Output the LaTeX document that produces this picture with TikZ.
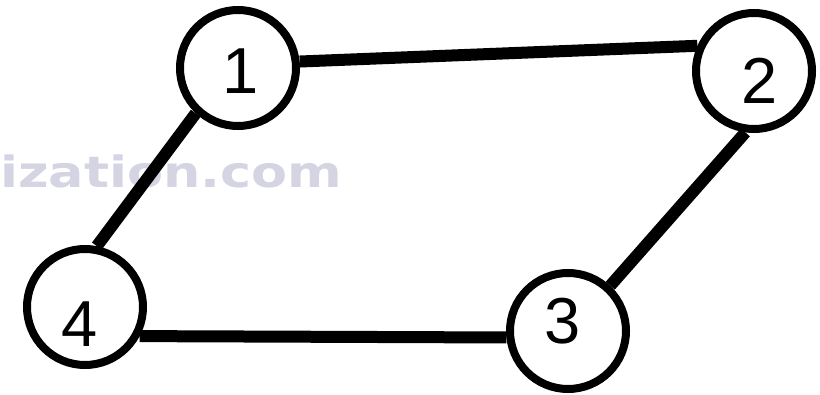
\documentclass[tikz,border=0pt]{standalone}
\usepackage{fontspec}
\setmainfont{Liberation Sans}
\newfontfamily\markfont{DejaVu Sans}
\usepackage{tikz}
\usetikzlibrary{backgrounds}
\usepackage{xcolor}
\definecolor{markgray}{HTML}{D4D4E2}

\begin{document}
\begin{tikzpicture}[x=1pt, y=-1pt,
    vertex/.style={circle, draw, line width=8pt, fill=white,
                   minimum size=116pt, inner sep=0pt},
    digit/.style={inner sep=0pt, font=\fontsize{65}{65}\selectfont},
    link/.style={line width=12pt}]
  \useasboundingbox (0,0) rectangle (820,394);

  \node[vertex] (n1) at (238,68) {};
  \node[vertex] (n2) at (754,71) {};
  \node[vertex] (n3) at (568,331) {};
  \node[vertex] (n4) at (85,307) {};

  \node[digit] (l1) at (241,71.5) {1};
  \node[digit] (l2) at (759.5,81) {2};
  \node[digit] (l3) at (562.5,321.5) {3};
  \node[digit] (l4) at (79.5,324.5) {4};

  \begin{scope}[on background layer]
    % faint web address behind the edges
    \node[anchor=base west, inner sep=0pt, markgray,
          font=\markfont\bfseries\fontsize{43}{43}\selectfont]
      (wm) at (0,187) {\scalebox{1.22}[1]{ization.com}};

    \draw[link] (n1.6) -- (n2.156);
    \draw[link] (n1.-133) -- (n4.79);
    \draw[link] (n2.-98) -- (n3.47);
    \draw[link] (n4.-28) -- (n3.-174);
  \end{scope}
\end{tikzpicture}
\end{document}
